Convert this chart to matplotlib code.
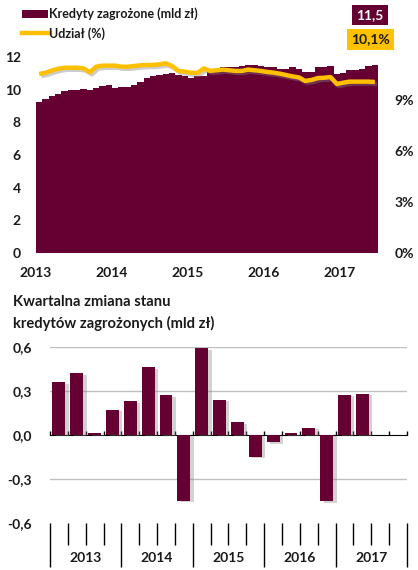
import numpy as np
import matplotlib
matplotlib.use("Agg")
import matplotlib.pyplot as plt
import matplotlib.patheffects as pe
from matplotlib.patches import Rectangle
from matplotlib.lines import Line2D

# ---- data ----
years = ["2013", "2014", "2015", "2016", "2017"]
# monthly non-performing loans (bln PLN), Jan 2013 - Jun 2017
kredyty = [9.23, 9.43, 9.60, 9.74, 9.90, 9.98, 10.00, 10.06, 9.98, 10.10, 10.22, 10.27,
           10.14, 10.20, 10.20, 10.30, 10.45, 10.70, 10.83, 10.90, 10.96, 11.04, 10.90, 10.83,
           10.70, 10.83, 10.83, 11.14, 11.28, 11.38, 11.38, 11.38, 11.43, 11.55, 11.53, 11.43,
           11.38, 11.38, 11.30, 11.28, 11.38, 11.28, 11.08, 11.10, 11.38, 11.38, 11.43, 10.98,
           11.04, 11.20, 11.20, 11.28, 11.43, 11.50]
# share (%)
udzial = [10.53, 10.60, 10.73, 10.84, 10.90, 10.90, 10.90, 10.86, 10.63, 10.96, 11.02, 11.02,
          11.02, 10.96, 10.96, 11.00, 11.04, 11.06, 11.06, 11.10, 11.16, 11.00, 10.71, 10.67,
          10.60, 10.60, 10.86, 10.71, 10.75, 10.79, 10.75, 10.71, 10.71, 10.79, 10.75, 10.71,
          10.65, 10.61, 10.55, 10.47, 10.39, 10.33, 10.12, 10.18, 10.29, 10.31, 10.35, 9.94,
          10.02, 10.08, 10.08, 10.08, 10.08, 10.06]
quarters = ["I", "II", "III", "IV"]
# quarterly change (bln PLN), 2013Q1 - 2017Q2
zmiana = [0.36, 0.42, 0.01, 0.17, 0.23, 0.46, 0.27, -0.45, 0.59, 0.24, 0.085, -0.15,
          -0.05, 0.01, 0.05, -0.455, 0.275, 0.28]

maroon = "#660033"
gold = "#FFC000"
txt = "#1a1a1a"
FONT = "Lato"
FS = 10

plt.rcParams["font.family"] = [FONT, "DejaVu Sans"]
plt.rcParams["font.weight"] = "bold"

W, H = 418, 570
fig = plt.figure(figsize=(W / 100, H / 100), dpi=100)

def fx(px):
    return px / W

def fy(py):
    return 1 - py / H

# ---- top chart ----
ax1 = fig.add_axes([fx(36), fy(253), fx(342), 204 / H])
n = len(kredyty)
edges = np.arange(n + 1)
ax1.stairs(kredyty, edges, fill=True, color=maroon, linewidth=0)
ax1.set_xlim(0, n)
ax1.set_ylim(0, 12.5)
ax1.set_yticks(range(0, 13, 2))
ax1.set_yticklabels([str(v) for v in range(0, 13, 2)], fontsize=FS, fontweight="bold", color=txt)
ax1.set_xticks([12 * i for i in range(len(years))])
ax1.set_xticklabels(years, fontsize=FS, fontweight="bold", color=txt)
ax1.tick_params(axis="both", length=0)
ax1.tick_params(axis="y", pad=11)
ax1.tick_params(axis="x", pad=10)
for s in ax1.spines.values():
    s.set_visible(False)

ax2 = ax1.twinx()
ax2.plot(np.arange(n) + 0.5, udzial, color=gold, lw=3.2, solid_capstyle="butt",
         path_effects=[pe.SimpleLineShadow(offset=(1.5, -1.5), shadow_color="gray", alpha=0.4),
                       pe.Normal()])
ax2.set_ylim(0, 12)
ax2.set_yticks([0, 3, 6, 9])
ax2.set_yticklabels([f"{v}%" for v in [0, 3, 6, 9]], fontsize=FS, fontweight="bold", color=txt)
ax2.tick_params(axis="y", length=0, pad=12)
for s in ax2.spines.values():
    s.set_visible(False)

# legend (manual)
LFS = 9
fig.patches.append(Rectangle((fx(22), fy(18)), fx(26), 8 / H, transform=fig.transFigure,
                             color=maroon, lw=0))
fig.text(fx(49), fy(13.5), "Kredyty zagrożone (mld zł)", fontsize=LFS, fontweight="bold",
         color=txt, va="center", ha="left")
fig.lines.append(Line2D([fx(22), fx(50)], [fy(33), fy(33)], transform=fig.transFigure,
                        color=gold, lw=3.2))
fig.text(fx(49), fy(34), "Udział (%)", fontsize=LFS, fontweight="bold",
         color=txt, va="center", ha="left")

# value boxes
last_k = f"{kredyty[-1]:.1f}".replace(".", ",")
last_u = f"{udzial[-1]:.1f}".replace(".", ",") + "%"
fig.text(fx(370), fy(15), last_k, fontsize=FS, fontweight="bold", color="white",
         ha="center", va="center",
         bbox=dict(boxstyle="square,pad=0.3", fc=maroon, ec="none"))
fig.text(fx(370.5), fy(39.5), last_u, fontsize=FS, fontweight="bold", color=txt,
         ha="center", va="center",
         bbox=dict(boxstyle="square,pad=0.3", fc=gold, ec="none"))

# ---- bottom chart ----
TFS = 10.6
fig.text(fx(13), fy(302), "Kwartalna zmiana stanu", fontsize=TFS, fontweight="bold",
         color=txt, va="center", ha="left")
fig.text(fx(13), fy(323), "kredytów zagrożonych (mld zł)", fontsize=TFS, fontweight="bold",
         color=txt, va="center", ha="left")

ax3 = fig.add_axes([fx(50), fy(522.7), fx(357), 175.7 / H])
nslots = len(years) * len(quarters)
ymin, ymax = -0.6, 0.6
ax3.set_xlim(0, nslots)
ax3.set_ylim(ymin, ymax)
yt = [-0.6, -0.3, 0.0, 0.3, 0.6]
ax3.set_yticks(yt)
ax3.set_yticklabels([f"{v:.1f}".replace(".", ",") for v in yt], fontsize=FS,
                    fontweight="bold", color=txt)
ax3.tick_params(axis="y", length=0, pad=13)
for v in yt:
    if v not in (ymin, 0.0):
        ax3.axhline(v, color="#BFBFBF", lw=1, zorder=0)
for s in ax3.spines.values():
    s.set_visible(False)

ax3.bar(np.arange(len(zmiana)) + 0.5, zmiana, width=0.72, color=maroon, zorder=3,
        path_effects=[pe.SimplePatchShadow(offset=(2.5, -1.0), shadow_rgbFace="#808080", alpha=0.35),
                      pe.Normal()])

# x axis with category boundaries
ax3.set_xticks(np.arange(0, nslots + 1, len(quarters)))
ax3.set_xticks(np.arange(0, nslots + 1), minor=True)
ax3.tick_params(axis="x", which="major", length=31.7, width=1, color="black",
                labelbottom=False)
ax3.tick_params(axis="x", which="minor", length=15.8, width=1, color="black")
for i, y in enumerate(years):
    ax3.annotate(y, xy=(len(quarters) * (i + 0.5), 0), xycoords=("data", "axes fraction"),
                 xytext=(0, -25.5), textcoords="offset points", ha="center", va="center",
                 fontsize=FS, fontweight="bold", color=txt)

# zero axis line with small ticks
sec = ax3.secondary_xaxis((0 - ymin) / (ymax - ymin))
sec.set_xticks(np.arange(0, nslots + 1))
sec.set_xticklabels([])
sec.tick_params(axis="x", length=3.2, width=1, color="black", direction="out")
sec.spines["bottom"].set_color("black")
sec.spines["bottom"].set_linewidth(1.2)
sec.spines["bottom"].set_zorder(5)

fig.savefig("out.png", dpi=100)
